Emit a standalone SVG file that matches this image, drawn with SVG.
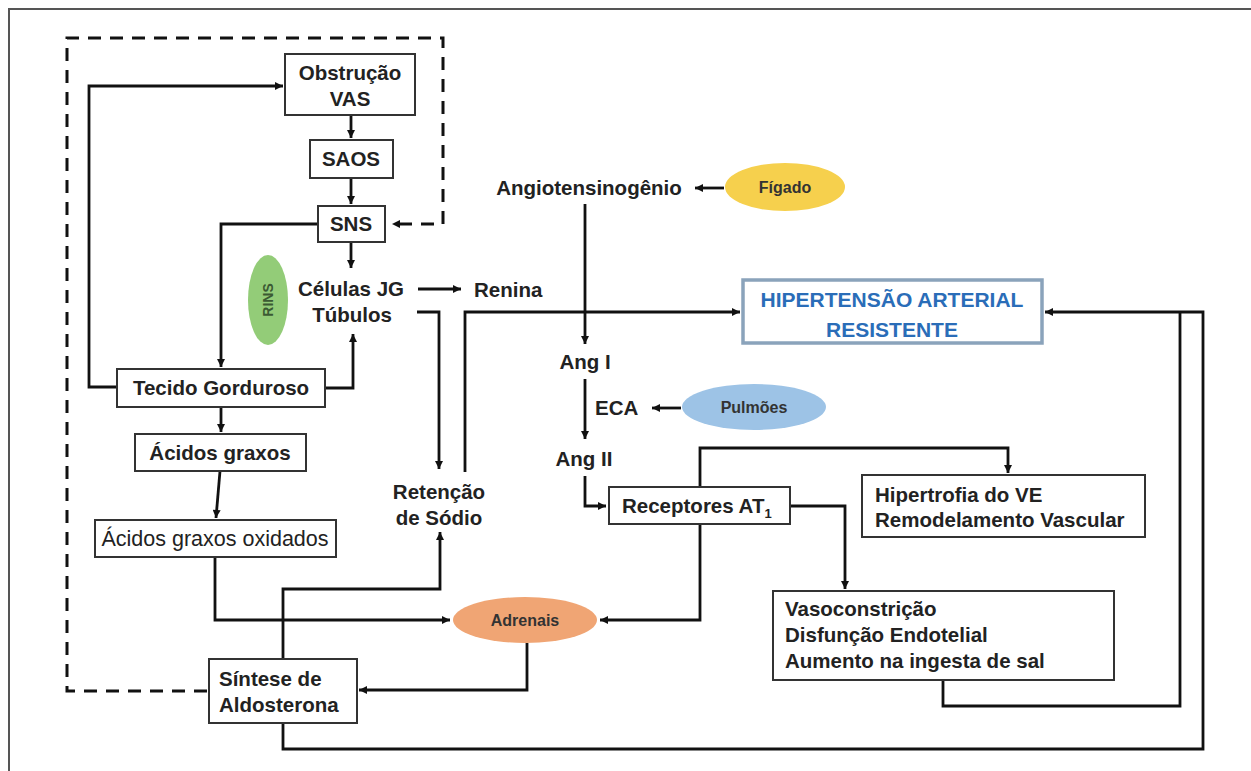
<svg xmlns="http://www.w3.org/2000/svg" width="1251" height="771" viewBox="0 0 1251 771">
<style>
.bx{fill:#fff;stroke:#333;stroke-width:2}
.t{font-family:"Liberation Sans",Arial,sans-serif;font-weight:bold;font-size:20.5px;fill:#222}
.tm{text-anchor:middle}
.r{font-weight:normal;font-size:21.5px}
.el{font-family:"Liberation Sans",Arial,sans-serif;font-weight:bold;font-size:16px;fill:#333;text-anchor:middle}
.c{fill:none;stroke:#111;stroke-width:2.8}
.ca{marker-end:url(#ah)}
.d{fill:none;stroke:#111;stroke-width:3;stroke-dasharray:13 9}
</style>
<defs>
<marker id="ah" viewBox="0 0 10 10" refX="10" refY="5" markerWidth="9" markerHeight="8" markerUnits="userSpaceOnUse" orient="auto"><path d="M0,0 L10,5 L0,10 z" fill="#111"/></marker>
</defs>
<rect width="1251" height="771" fill="#fff"/>
<path d="M9,771 V9 H1251" fill="none" stroke="#555" stroke-width="2"/>

<g id="connectors">
<path class="d" d="M207,691 H67 V38 H443 V224 H392" marker-end="url(#ah)"/>
<path class="c ca" d="M351,115 V138"/>
<path class="c ca" d="M351,178 V204"/>
<path class="c ca" d="M351,242 V268"/>
<path class="c ca" d="M318,224 H221 V367"/>
<path class="c ca" d="M117,387 H89 V86 H283"/>
<path class="c ca" d="M325,388 H353 V334"/>
<path class="c ca" d="M418,289 H461"/>
<path class="c ca" d="M417,312 H439 V469"/>
<path class="c ca" d="M465,472 V312 H740"/>
<path class="c ca" d="M585,204 V344"/>
<path class="c ca" d="M724,188 H695"/>
<path class="c ca" d="M585,379 V439"/>
<path class="c ca" d="M681,408 H652"/>
<path class="c ca" d="M585,476 V506 H606"/>
<path class="c ca" d="M700,487 V448 H1008 V473"/>
<path class="c ca" d="M791,506 H845 V589"/>
<path class="c ca" d="M700,524 V620 H600"/>
<path class="c ca" d="M215,557 V620 H450"/>
<path class="c ca" d="M527,643 V690 H359"/>
<path class="c ca" d="M283,659 V589 H440 V532"/>
<path class="c ca" d="M221,407 V432"/>
<path class="c ca" d="M220,471 L216,518"/>
<path class="c" d="M943,680 V706 H1180 V312"/>
<path class="c ca" d="M283,723 V749 H1203 V312 H1045"/>
</g>

<g id="obstrucao"><rect class="bx" x="285" y="54" width="130" height="61"/><text class="t tm" x="350" y="80">Obstrução</text><text class="t tm" x="350" y="106">VAS</text></g>
<g id="saos"><rect class="bx" x="310" y="140" width="83" height="38"/><text class="t tm" x="351" y="166">SAOS</text></g>
<g id="sns"><rect class="bx" x="318" y="206" width="67" height="36"/><text class="t tm" x="351" y="231">SNS</text></g>
<g id="rins"><ellipse cx="268" cy="300" rx="20" ry="45" fill="#93cc78"/><text class="el" style="font-size:14px;fill:#3b5a33" transform="translate(273,300) rotate(-90)" x="0" y="0">RINS</text></g>
<g id="celulas"><text class="t tm" x="351" y="296">Células JG</text><text class="t tm" x="352" y="322">Túbulos</text></g>
<g id="renina"><text class="t" x="474" y="297">Renina</text></g>
<g id="tecido"><rect class="bx" x="117" y="369" width="208" height="38"/><text class="t tm" x="221" y="395">Tecido Gorduroso</text></g>
<g id="acidos"><rect class="bx" x="135" y="434" width="171" height="37"/><text class="t tm" x="220" y="460">Ácidos graxos</text></g>
<g id="oxidados"><rect class="bx" x="95" y="520" width="241" height="37"/><text class="t tm r" x="215" y="546">Ácidos graxos oxidados</text></g>
<g id="retencao"><text class="t tm" x="439" y="499">Retenção</text><text class="t tm" x="439" y="525">de Sódio</text></g>
<g id="sintese"><rect class="bx" x="209" y="659" width="148" height="64"/><text class="t" x="219" y="686">Síntese de</text><text class="t" x="219" y="712">Aldosterona</text></g>
<g id="adrenais"><ellipse cx="525" cy="620" rx="72" ry="23" fill="#f0a574"/><text class="el" x="525" y="626">Adrenais</text></g>
<g id="angiotensinogenio"><text class="t tm" x="589" y="195">Angiotensinogênio</text></g>
<g id="figado"><ellipse cx="785" cy="187" rx="60" ry="24" fill="#f6d04d"/><text class="el" x="785" y="193">Fígado</text></g>
<g id="har"><rect x="743" y="280" width="299" height="63" fill="#fff" stroke="#8aa3bb" stroke-width="3.5"/><text class="t tm" style="fill:#2a6db8;font-size:21px" x="892" y="307">HIPERTENSÃO ARTERIAL</text><text class="t tm" style="fill:#2a6db8;font-size:21px" x="892" y="337">RESISTENTE</text></g>
<g id="angi"><text class="t tm" x="585" y="369">Ang I</text></g>
<g id="eca"><text class="t" x="595" y="415">ECA</text></g>
<g id="pulmoes"><ellipse cx="754" cy="407" rx="72" ry="23" fill="#9dc3e6"/><text class="el" x="754" y="413">Pulmões</text></g>
<g id="angii"><text class="t tm" x="584" y="466">Ang II</text></g>
<g id="receptores"><rect class="bx" x="609" y="487" width="181" height="37"/><text class="t" x="622" y="513">Receptores AT<tspan style="font-size:13px" dy="5">1</tspan></text></g>
<g id="hipertrofia"><rect class="bx" x="862" y="475" width="283" height="62"/><text class="t" x="875" y="502">Hipertrofia do VE</text><text class="t" x="875" y="527">Remodelamento Vascular</text></g>
<g id="vaso"><rect class="bx" x="773" y="591" width="341" height="89"/><text class="t" x="785" y="616">Vasoconstrição</text><text class="t" x="785" y="642">Disfunção Endotelial</text><text class="t" x="785" y="668">Aumento na ingesta de sal</text></g>
</svg>
